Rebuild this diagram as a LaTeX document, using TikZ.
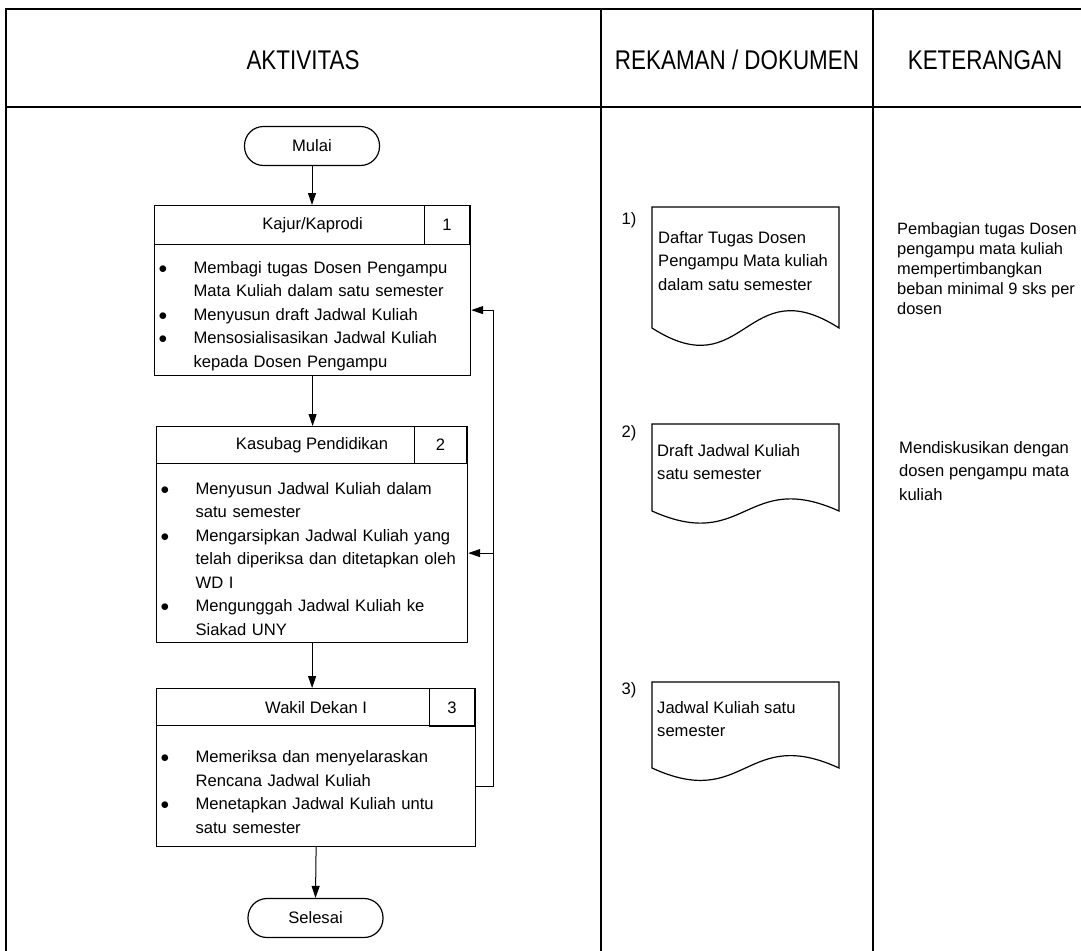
\documentclass[tikz,border=0pt]{standalone}
\usepackage{fontspec}
\setmainfont{Liberation Sans}
\newfontfamily\kepala[FakeStretch=0.83]{Liberation Sans}
\usetikzlibrary{arrows.meta}

\newcommand{\butir}[1]{\par\noindent\hangindent=35pt\hangafter=1\makebox[35pt][l]{$\bullet$}#1\par}

\tikzset{
	teks/.style	= {font=\fontsize{16.6}{23.5}\selectfont},
	judul/.style	= {font=\kepala\fontsize{27}{30}\selectfont},
	terminal/.style	= {teks, draw, line width=1.2pt, rounded corners=19pt, minimum width=135pt, minimum height=39pt},
	kepalabox/.style	= {teks, draw, line width=1.2pt, anchor=north west, inner sep=0pt},
	nomor/.style	= {teks, draw, line width=1.2pt, anchor=north east, inner sep=0pt},
	isi/.style	= {teks, draw, line width=1.2pt, anchor=north west, inner xsep=4pt, inner ysep=0pt, align=left},
	catatan/.style	= {anchor=north west, inner sep=0pt, align=left},
	panah/.style	= {line width=1pt, -{Triangle[length=12pt,width=8pt]}},
	tabel/.style	= {line width=2pt},
	dok/.style	= {line width=1.2pt}
}

\begin{document}
\begin{tikzpicture}[x=1pt,y=-1pt]
	\useasboundingbox (0,0) rectangle (1081,950);
	\clip (0,0) rectangle (1081,950);

	% tabel
	\draw[tabel] (6,960) -- (6,9) -- (1090,9);
	\draw[tabel] (6,107) -- (1090,107);
	\draw[tabel] (601,9) -- (601,960);
	\draw[tabel] (873,9) -- (873,960);

	\node (H1) at (303,60)	[judul]	{AKTIVITAS};
	\node (H2) at (737,60)	[judul]	{REKAMAN / DOKUMEN};
	\node (H3) at (985,60)	[judul]	{KETERANGAN};

	% aktivitas
	\node (A0) at (312,146)	[terminal]	{Mulai};

	\node (T1) at (154,205)	[kepalabox, minimum width=316pt, minimum height=39pt]	{Kajur/Kaprodi};
	\node (N1) at (470,205)	[nomor, minimum width=45pt, minimum height=39pt]	{1};
	\node (B1) at (154,244)	[isi, text width=308pt, minimum height=131pt]	{%
		\butir{Membagi tugas Dosen Pengampu\newline Mata Kuliah dalam satu semester}%
		\butir{Menyusun draft Jadwal Kuliah}%
		\butir{Mensosialisasikan Jadwal Kuliah\newline kepada Dosen Pengampu}};

	\node (T2) at (156,426)	[kepalabox, minimum width=311pt, minimum height=37pt]	{Kasubag Pendidikan};
	\node (N2) at (467,426)	[nomor, minimum width=52pt, minimum height=37pt]	{2};
	\node (B2) at (156,463)	[isi, text width=303pt, minimum height=179pt]	{%
		\butir{Menyusun Jadwal Kuliah dalam\newline satu semester}%
		\butir{Mengarsipkan Jadwal Kuliah yang\newline telah diperiksa dan ditetapkan oleh\newline WD I}%
		\butir{Mengunggah Jadwal Kuliah ke\newline Siakad UNY}};

	\node (T3) at (156,688)	[kepalabox, minimum width=319pt, minimum height=37pt]	{Wakil Dekan I};
	\node (N3) at (475,688)	[nomor, minimum width=45pt, minimum height=38pt]	{3};
	\node (B3) at (156,725)	[isi, text width=311pt, minimum height=121pt]	{%
		\butir{Memeriksa dan menyelaraskan\newline Rencana Jadwal Kuliah}%
		\butir{Menetapkan Jadwal Kuliah untu\newline satu semester}};

	\node (A4) at (315.5,918)	[terminal]	{Selesai};

	\draw[panah] (A0.south) -- (A0.south |- T1.north);
	\draw[panah] (B1.south) -- (B1.south |- T2.north);
	\draw[panah] (B2.south) -- (B2.south |- T3.north);
	\draw[panah] (B3.south) -- (A4.north);

	% umpan balik
	\coordinate (J) at (493,0);
	\draw[panah] (B3.east) -- (B3.east -| J) |- (B1.east);
	\draw[panah] (B2.east -| J) -- (B2.east);

	% rekaman / dokumen
	\draw[dok] (652,207) -- (839,207) -- (839,328) .. controls (745.5,268) and (745.5,388) .. (652,328) -- cycle;
	\draw[dok] (652,424) -- (839,424) -- (839,511) .. controls (745.5,469) and (745.5,553) .. (652,511) -- cycle;
	\draw[dok] (652,682) -- (839,682) -- (839,768) .. controls (745.5,725) and (745.5,811) .. (652,768) -- cycle;

	\node (R1) at (629,220)	[teks]	{1)};
	\node (R2) at (629,433)	[teks]	{2)};
	\node (R3) at (629,690)	[teks]	{3)};

	\node (D1) at (658,231)	[teks, catatan]	{Daftar Tugas Dosen\\ Pengampu Mata kuliah\\ dalam satu semester};
	\node (D2) at (657,444)	[teks, catatan]	{Draft Jadwal Kuliah\\ satu semester};
	\node (D3) at (657,701)	[teks, catatan]	{Jadwal Kuliah satu\\ semester};

	% keterangan
	\node (K1) at (897,222)	[catatan, font=\fontsize{16.4}{20}\selectfont]	{Pembagian tugas Dosen\\ pengampu mata kuliah\\ mempertimbangkan\\ beban minimal 9 sks per\\ dosen};
	\node (K2) at (899,441)	[teks, catatan]	{Mendiskusikan dengan\\ dosen pengampu mata\\ kuliah};
\end{tikzpicture}
\end{document}
